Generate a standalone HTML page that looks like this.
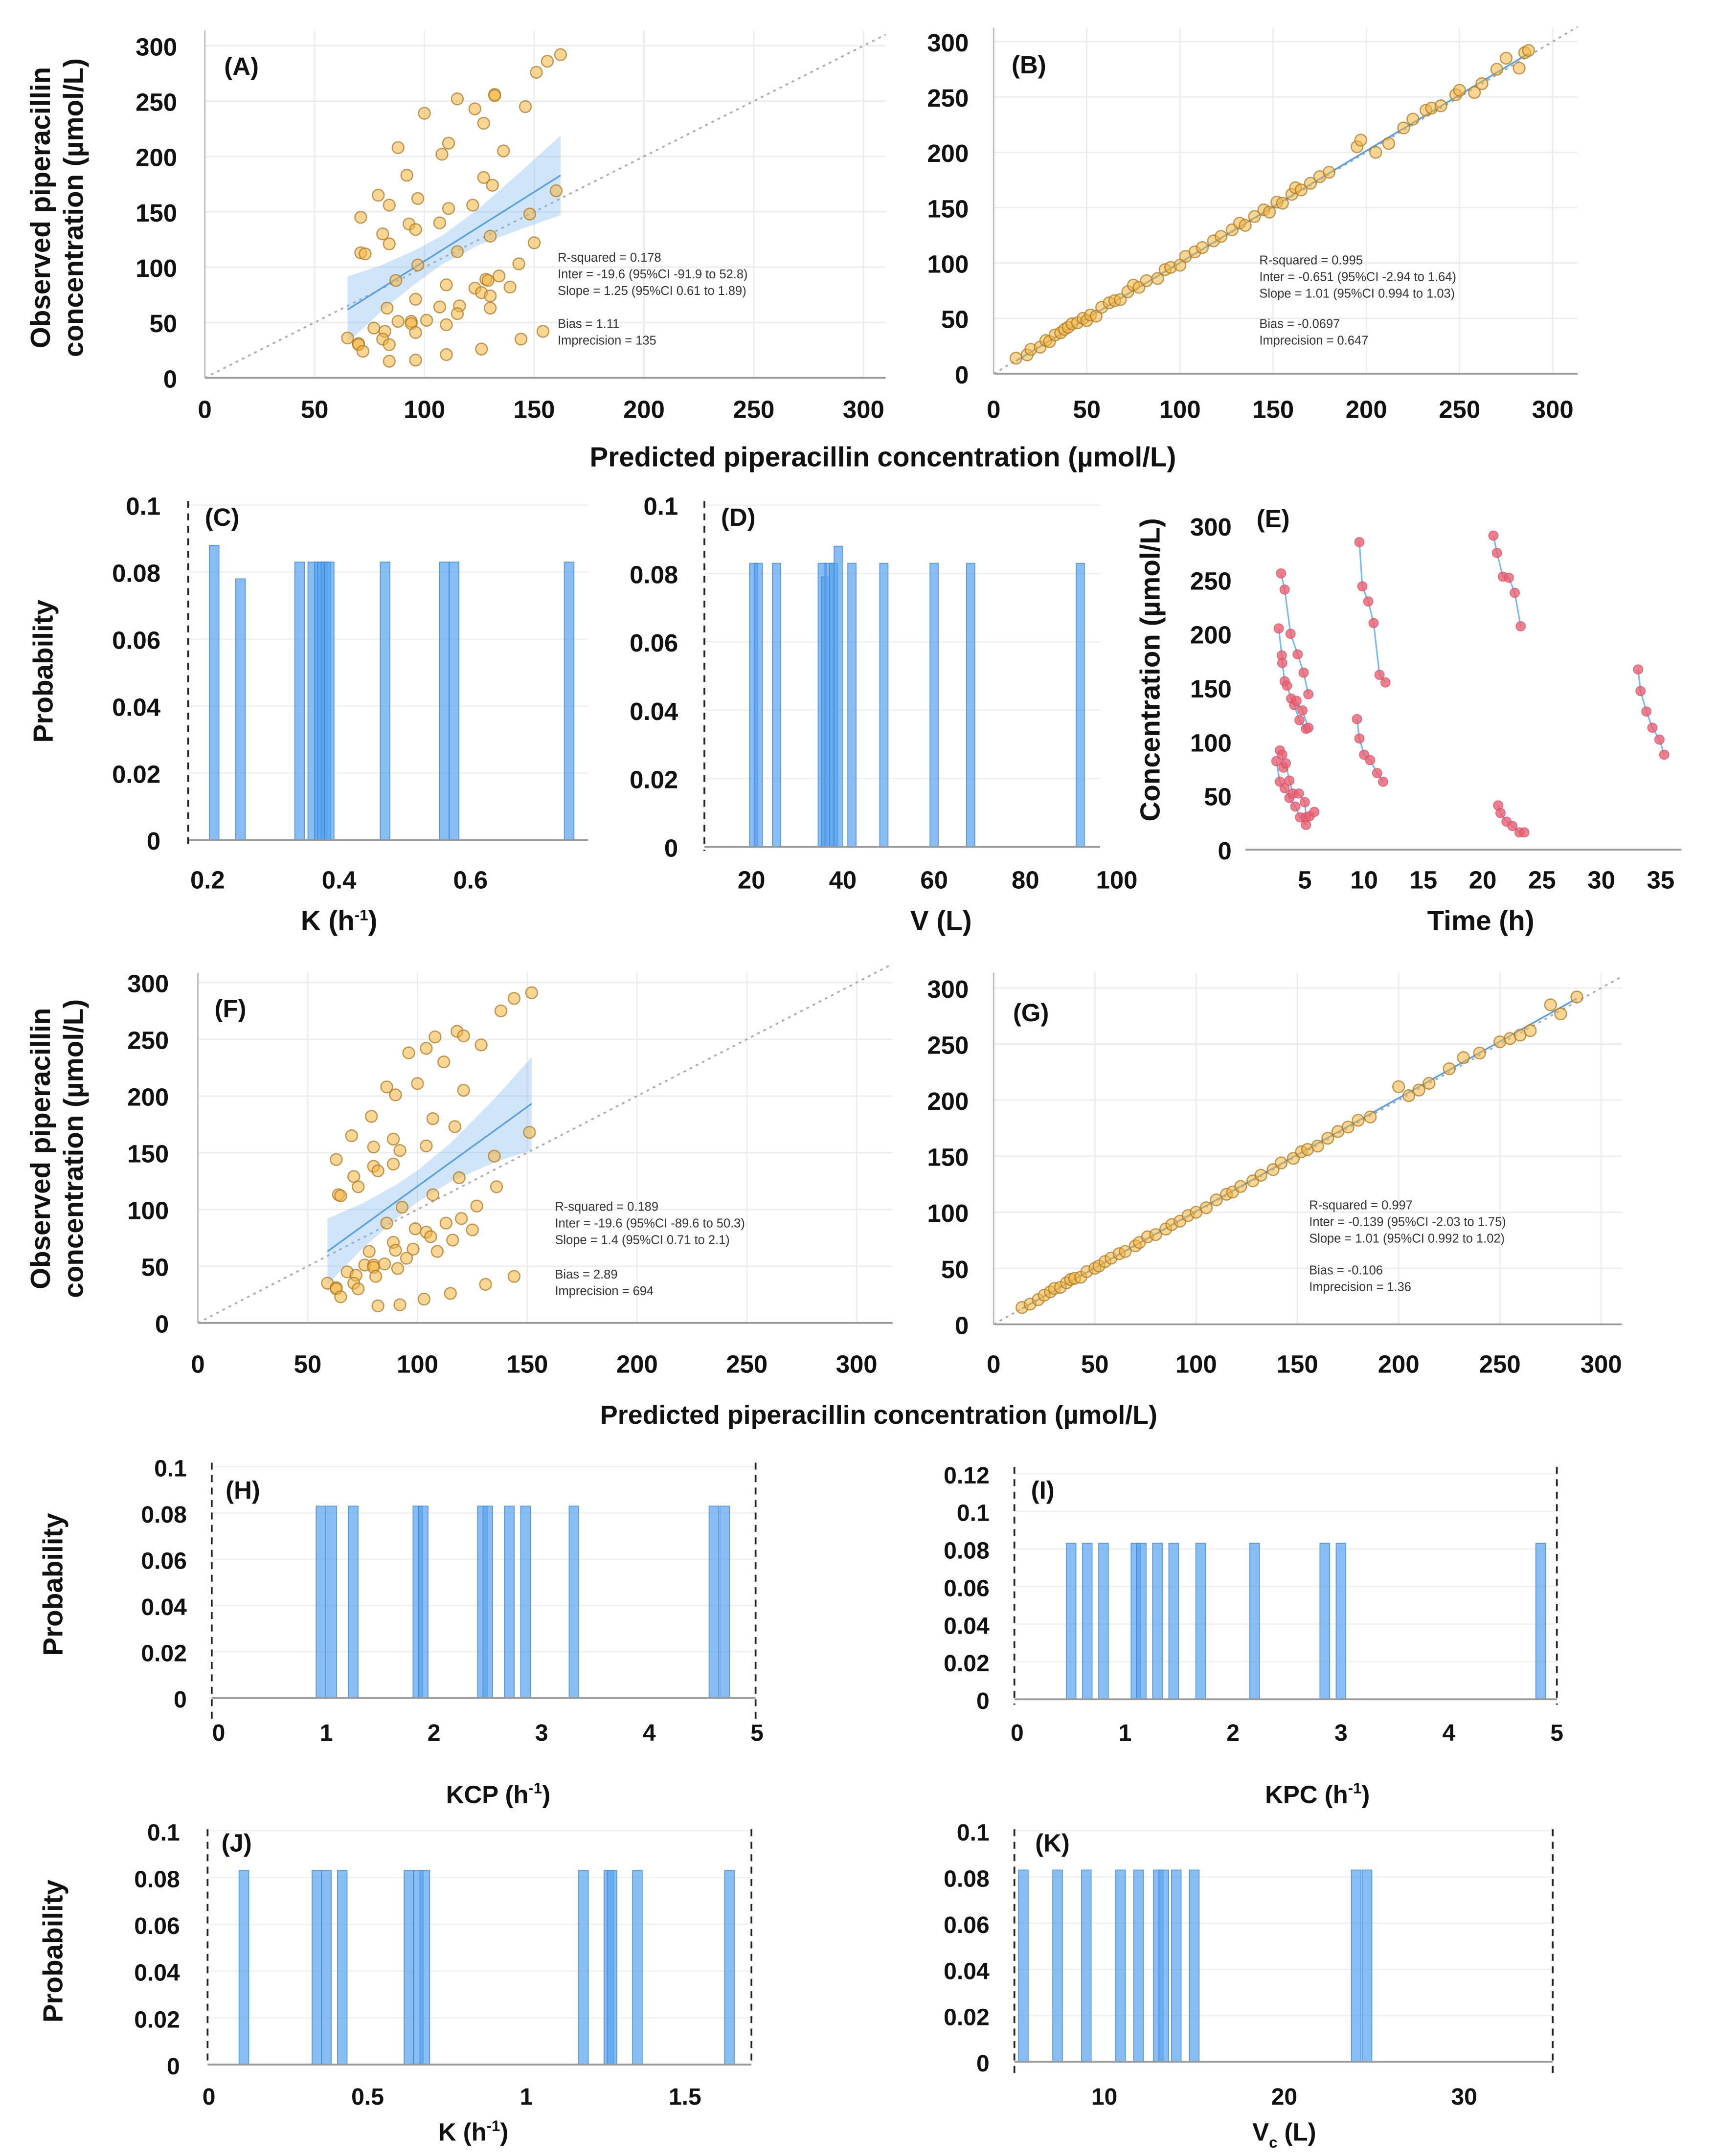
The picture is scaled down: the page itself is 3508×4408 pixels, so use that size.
<!DOCTYPE html>
<html><head><meta charset="utf-8">
<style>
html,body{margin:0;padding:0;background:#fff;}
svg{display:block;font-family:"Liberation Sans",Arial,sans-serif;}
.tk{font-weight:bold;font-size:18px;fill:#111;}
.tk2{font-weight:bold;font-size:17px;fill:#111;}
.ttl{font-weight:bold;font-size:20px;fill:#111;}
.pl{font-weight:bold;font-size:18px;fill:#111;}
.st{font-size:9px;fill:#333;}
</style></head>
<body>
<svg id="fig" width="3508" height="4408" viewBox="0 0 1240 1558" xmlns="http://www.w3.org/2000/svg"></svg>
<script>
// ---- Panel A data ----
const A_pred = [162,156,151,132,132,115,146,100,123,127,88,111,108,136,92,127,131,160,79,97,84,122,111,71,148,93,96,107,81,130,84,150,71,73,115,97,143,134,87,128,129,110,139,123,126,130,96,107,83,116,130,115,88,94,94,101,110,77,82,96,154,65,81,144,70,70,84,72,126,110,84,96];
const A_obs  = [292,286,276,256,255,252,245,239,243,230,208,212,202,205,183,181,174,169,165,162,156,156,153,145,148,139,134,140,130,128,121,122,113,112,114,102,103,92,88,89,88,84,82,81,77,74,71,64,63,65,63,58,51,51,49,52,48,45,42,41,42,36,35,35,31,30,30,24,26,21,15,16];
const A_bandX = [65,80,95,108,125,145,162];
const A_bandLo = [31.6,59.4,83.8,102.4,120.2,135.1,146.9];
const A_bandHi = [91.6,101.4,114.6,128.4,153.2,188.3,218.9];
const A_fitX = [65,162];
const A_fitY = [61.6,182.9];
// ---- Panel B data ----
const B_pred = [12,18,20,25,28,30,33,36,38,40,42,45,48,50,52,55,58,62,65,68,72,75,78,82,88,92,95,100,103,108,112,118,122,128,132,135,140,145,148,152,155,160,162,165,170,175,180,195,197,205,212,220,225,232,235,240,248,250,258,262,270,275,285,282,287];
const B_obs  = [14,17,22,24,30,29,35,37,40,42,45,46,50,48,53,52,60,64,66,67,74,80,78,84,86,94,96,98,106,110,114,120,124,130,136,134,142,148,146,155,154,162,168,166,172,178,182,205,211,200,208,222,230,238,240,242,252,256,254,262,275,285,290,276,292];
const B_fitX = [12,287];
const B_fitY = [11.5,289.2];
// ---- Panel F data ----
const F_pred = [152,144,138,118,121,108,104,96,129,112,100,86,90,121,79,107,117,151,70,89,80,104,92,63,135,80,82,89,71,119,73,136,64,65,107,93,127,120,86,113,99,125,104,106,116,89,109,78,90,98,95,76,80,80,85,91,68,72,81,144,59,71,131,63,63,73,65,115,103,82,92];
const F_obs  = [291,286,275,257,253,252,242,238,245,230,211,208,201,205,182,180,173,168,165,162,155,156,152,144,147,138,134,140,129,128,120,120,113,112,113,102,103,92,88,88,83,82,80,76,73,71,63,63,64,65,57,51,51,49,52,48,45,42,41,41,35,35,34,31,30,30,23,26,21,15,16];
const F_bandX = [59,75,90,100,115,135,152];
const F_bandLo = [34,65.4,91.4,106.4,124.4,141.4,152.2];
const F_bandHi = [92,105.4,121.4,134.4,158.4,197.4,234.2];
const F_fitX = [59,152];
const F_fitY = [63,193.2];
// ---- Panel G data ----
const G_pred = [14,18,22,25,28,30,33,36,38,40,43,46,50,52,55,58,62,65,70,72,76,80,85,88,92,96,100,105,110,115,118,122,128,132,138,142,148,152,155,160,165,170,175,180,186,200,205,210,215,225,232,240,250,255,260,265,275,280,288];
const G_obs  = [15,18,22,26,29,32,33,37,40,41,42,47,50,52,56,59,63,65,70,73,78,80,85,89,92,97,100,104,111,116,118,123,128,133,138,144,148,154,156,159,166,172,176,182,185,212,204,209,215,228,238,242,252,255,258,262,285,277,292];
const G_fitX = [14,288];
const G_fitY = [14,290.7];
// ---- Panel C / D histograms ----
const C_vals = [0.21,0.25,0.34,0.36,0.37,0.375,0.38,0.385,0.47,0.56,0.575,0.75];
const C_probs = [0.088,0.078,0.083,0.083,0.083,0.083,0.083,0.083,0.083,0.083,0.083,0.083];
const C_ticks = [0.2,0.4,0.6];
const D_vals = [20.5,21.5,25.5,35.5,36.2,37,38,39,42,49,60,68,92];
const D_probs = [0.083,0.083,0.083,0.083,0.079,0.083,0.083,0.088,0.083,0.083,0.083,0.083,0.083];
const D_ticks = [20,40,60,80,100];
// ---- Panel E concentration-time series ----
const E_s1_t = [3.0,3.3,3.8,4.4,4.9,5.3];
const E_s1_c = [256,241,200,181,164,144];
const E_s2_t = [2.8,3.06,3.1,3.3,3.5,3.85,4.1,4.55,5.1];
const E_s2_c = [205,180,173,156,152,140,134,120,112];
const E_s3_t = [4.3,4.8,5.3];
const E_s3_c = [138,129,113];
const E_s4_t = [2.6,2.9,3.3,3.7,4.2,4.6,5.1];
const E_s4_c = [82,63,57,48,40,30,23];
const E_s5_t = [2.9,3.1,3.2,3.4,3.7,4.0,4.5,5.0,5.1,5.4,5.8];
const E_s5_c = [92,88,76,80,64,52,52,44,30,31,35];
const E_s6_t = [9.6,9.85,10.35,10.8,11.3,11.8];
const E_s6_c = [285,244,230,210,162,155];
const E_s7_t = [9.4,9.6,10.0,10.5,11.1,11.6];
const E_s7_c = [121,103,88,83,71,63];
const E_s8_t = [20.9,21.2,21.7,22.2,22.7,23.2];
const E_s8_c = [291,275,253,252,238,207];
const E_s9_t = [21.3,21.5,22.0,22.5,23.1,23.5];
const E_s9_c = [41,34,26,22,16,16];
const E_s10_t = [33.1,33.3,33.8,34.3,34.9,35.3];
const E_s10_c = [167,147,128,113,102,88];
const E_xticks = [5,10,15,20,25,30,35];
// ---- Panels H-K histograms ----
const H_vals = [0.95,1.05,1.25,1.85,1.9,2.45,2.5,2.7,2.85,3.3,4.6,4.7];
const H_probs = [0.083,0.083,0.083,0.083,0.083,0.083,0.083,0.083,0.083,0.083,0.083,0.083];
const I_vals = [0.5,0.65,0.8,1.1,1.15,1.3,1.45,1.7,2.2,2.85,3.0,4.85];
const I_probs = [0.083,0.083,0.083,0.083,0.083,0.083,0.083,0.083,0.083,0.083,0.083,0.083];
const J_vals = [0.11,0.34,0.37,0.42,0.63,0.66,0.68,1.18,1.26,1.27,1.35,1.64];
const J_probs = [0.083,0.083,0.083,0.083,0.083,0.083,0.083,0.083,0.083,0.083,0.083,0.083];
const K_vals = [5.5,7.4,9.0,10.9,11.9,13.0,13.3,14.0,15.0,24.0,24.6];
const K_probs = [0.083,0.083,0.083,0.083,0.083,0.083,0.083,0.083,0.083,0.083,0.083];

const NS = "http://www.w3.org/2000/svg";
const svg = document.getElementById('fig');
function mk(tag, attrs, parent){
  const e = document.createElementNS(NS, tag);
  for (const k in attrs) e.setAttribute(k, attrs[k]);
  (parent||svg).appendChild(e);
  return e;
}
function lin(d0,d1,p0,p1){ return v => p0 + (v-d0)*(p1-p0)/(d1-d0); }
function txt(s, x, y, cls, anchor, parent, rot){
  const t = mk('text', {x:x, y:y, class:cls, 'text-anchor':anchor||'middle'}, parent);
  if (rot) t.setAttribute('transform','rotate(-90 '+x+' '+y+')');
  t.textContent = s;
  return t;
}

function scatterPanel(id, L, xs, ys, bx, blo, bhi, fx, fy, stats){
  const g = mk('g', {});
  
  
  const X = lin(0,300,L.x0,L.x300), Y = lin(0,300,L.y0,L.y300);
  [0,50,100,150,200,250,300].forEach(v=>{
    const gl = mk('line',{x1:L.x0,x2:L.xr,y1:Y(v),y2:Y(v),stroke:'#ececec','stroke-width':1},g);
    
    
    const vl = mk('line',{x1:X(v),x2:X(v),y1:L.yt,y2:L.y0,stroke:'#ececec','stroke-width':1},g);
    
    
    const xl = txt(String(v), X(v), L.xly, 'tk', 'middle', g);
    
    
    const yl = txt(String(v), L.ylx, Y(v)+7, 'tk', 'end', g);
    
    
  });
  const ax = mk('line',{x1:L.x0,x2:L.xr,y1:L.y0,y2:L.y0,stroke:'#999','stroke-width':1.3},g);
  
  
  const ay = mk('line',{x1:L.x0,x2:L.x0,y1:L.yt,y2:L.y0,stroke:'#bbb','stroke-width':1},g);
  
  
  const dg = mk('line',{x1:L.x0,y1:L.y0,x2:L.xr,y2:Y((L.xr-L.x0)/(L.x300-L.x0)*300),stroke:'#aaa','stroke-width':1.2,'stroke-dasharray':'2,3'},g);
  
  
  if (bx){
    let d = '';
    bx.forEach((v,i)=>{ d += (i?'L':'M')+X(v)+','+Y(bhi[i]); });
    for (let i=bx.length-1;i>=0;i--) d += 'L'+X(bx[i])+','+Y(blo[i]);
    const band = mk('path',{d:d+'Z',fill:'rgba(120,180,240,0.35)',stroke:'none'},g);
    
    
  }
  const fit = mk('line',{x1:X(fx[0]),y1:Y(fy[0]),x2:X(fx[1]),y2:Y(fy[1]),stroke:'#5aa0e0','stroke-width':1.2},g);
  
  
  xs.forEach((v,i)=>{
    const c = mk('circle',{cx:X(v),cy:Y(ys[i]),r:4.2,fill:'rgba(245,180,60,0.55)',stroke:'rgba(170,120,40,0.75)','stroke-width':0.9},g);
    
    
  });
  const lab = txt('('+id+')', L.labx, L.laby, 'pl', 'start', g);
  
  
  stats.forEach((s,i)=>{
    const t = txt(s[0], L.stx, L.sty + s[1], 'st', 'start', g);
    
    
  });
}

function histPanel(id, L, vals, probs, yticks, xticks, xfmt, cls){
  const g = mk('g', {});
  
  
  const X = lin(L.d0,L.d1,L.p0,L.p1), Y = lin(0,L.ymax,L.y0,L.yt);
  yticks.forEach(v=>{
    const gl = mk('line',{x1:L.dl,x2:L.dr,y1:Y(v),y2:Y(v),stroke:'#f0f0f0','stroke-width':1},g);
    
    
    const yl = txt(String(v), L.ylx, Y(v)+7, cls, 'end', g);
    
    
  });
  xticks.forEach(v=>{
    const xl = txt(xfmt?xfmt(v):String(v), X(v), L.xly, cls, 'middle', g);
    
    
  });
  vals.forEach((v,i)=>{
    const r = mk('rect',{x:X(v)-L.bw/2,y:Y(probs[i]),width:L.bw,height:L.y0-Y(probs[i]),fill:'rgba(90,165,240,0.72)',stroke:'rgba(60,130,210,0.8)','stroke-width':0.6},g);
    
    
  });
  const ax = mk('line',{x1:L.dl,x2:L.dr,y1:L.y0,y2:L.y0,stroke:'#999','stroke-width':1.3},g);
  
  
  const d1 = mk('line',{x1:L.dl,x2:L.dl,y1:L.dt,y2:L.db,stroke:'#222','stroke-width':1.3,'stroke-dasharray':'5,4'},g);
  
  
  if (L.dashR){
    const d2 = mk('line',{x1:L.dr,x2:L.dr,y1:L.dt,y2:L.db,stroke:'#222','stroke-width':1.3,'stroke-dasharray':'5,4'},g);
    
    
  }
  const lab = txt('('+id+')', L.labx, L.laby, 'pl', 'start', g);
  
  
}

// Scatter panels
scatterPanel('A',{x0:148,x300:624,xr:640,y0:273,y300:33,yt:22,xly:302,ylx:128,labx:162,laby:54,stx:403,sty:189},
  A_pred,A_obs,A_bandX,A_bandLo,A_bandHi,A_fitX,A_fitY,
  [['R-squared = 0.178',0],['Inter = -19.6 (95%CI -91.9 to 52.8)',12],['Slope = 1.25 (95%CI 0.61 to 1.89)',24],['Bias = 1.11',48],['Imprecision  = 135',60]]);
scatterPanel('B',{x0:718,x300:1122,xr:1140,y0:270,y300:30,yt:20,xly:302,ylx:700,labx:731,laby:53,stx:910,sty:191},
  B_pred,B_obs,null,null,null,B_fitX,B_fitY,
  [['R-squared = 0.995',0],['Inter = -0.651 (95%CI -2.94 to 1.64)',12],['Slope = 1.01 (95%CI 0.994 to 1.03)',24],['Bias = -0.0697',46],['Imprecision  = 0.647',58]]);
scatterPanel('F',{x0:143,x300:619,xr:645,y0:956,y300:710,yt:703,xly:992,ylx:122,labx:155,laby:735,stx:401,sty:875},
  F_pred,F_obs,F_bandX,F_bandLo,F_bandHi,F_fitX,F_fitY,
  [['R-squared = 0.189',0],['Inter = -19.6 (95%CI -89.6 to 50.3)',12],['Slope = 1.4 (95%CI 0.71 to 2.1)',24],['Bias = 2.89',49],['Imprecision  = 694',61]]);
scatterPanel('G',{x0:718,x300:1157,xr:1172,y0:957,y300:714,yt:703,xly:992,ylx:700,labx:732,laby:738,stx:946,sty:874},
  G_pred,G_obs,null,null,null,G_fitX,G_fitY,
  [['R-squared = 0.997',0],['Inter = -0.139 (95%CI -2.03 to 1.75)',12],['Slope = 1.01 (95%CI 0.992 to 1.02)',24],['Bias = -0.106',47],['Imprecision  = 1.36',59]]);

// Histograms C, D
histPanel('C',{d0:0.2,d1:0.6,p0:150,p1:340,ymax:0.1,y0:607,yt:365,dl:136,dr:425,dt:362,db:610,dashR:false,bw:7,ylx:116,xly:642,labx:148,laby:380},
  C_vals,C_probs,[0,0.02,0.04,0.06,0.08,0.1],C_ticks,null,'tk');
histPanel('D',{d0:20,d1:100,p0:543,p1:807,ymax:0.1,y0:612,yt:365,dl:509,dr:795,dt:362,db:615,dashR:false,bw:6,ylx:490,xly:642,labx:521,laby:380},
  D_vals,D_probs,[0,0.02,0.04,0.06,0.08,0.1],D_ticks,null,'tk');
// Histograms H-K
histPanel('H',{d0:0,d1:5,p0:158,p1:547,ymax:0.1,y0:1227,yt:1060,dl:153,dr:546,dt:1057,db:1245,dashR:true,bw:7,ylx:135,xly:1258,labx:163,laby:1083},
  H_vals,H_probs,[0,0.02,0.04,0.06,0.08,0.1],[0,1,2,3,4,5],null,'tk2');
histPanel('I',{d0:0,d1:5,p0:735,p1:1125,ymax:0.12,y0:1228,yt:1065,dl:733,dr:1125,dt:1060,db:1232,dashR:true,bw:7,ylx:715,xly:1258,labx:745,laby:1083},
  I_vals,I_probs,[0,0.02,0.04,0.06,0.08,0.1,0.12],[0,1,2,3,4,5],null,'tk2');
histPanel('J',{d0:0,d1:1.5,p0:151,p1:495,ymax:0.1,y0:1492,yt:1323,dl:150,dr:543,dt:1322,db:1493,dashR:true,bw:7,ylx:130,xly:1521,labx:160,laby:1338},
  J_vals,J_probs,[0,0.02,0.04,0.06,0.08,0.1],[0,0.5,1,1.5],null,'tk2');
histPanel('K',{d0:10,d1:30,p0:798,p1:1058,ymax:0.1,y0:1490,yt:1323,dl:733,dr:1122,dt:1322,db:1500,dashR:true,bw:7,ylx:715,xly:1521,labx:748,laby:1338},
  K_vals,K_probs,[0,0.02,0.04,0.06,0.08,0.1],[10,20,30],null,'tk2');

// Panel E
(function(){
  const g = mk('g', {});
  
  
  const X = lin(0,35,900,1200), Y = lin(0,300,614,380);
  [0,50,100,150,200,250,300].forEach(v=>{
    const yl = txt(String(v), 890, Y(v)+7, 'tk', 'end', g);
    
    
  });
  E_xticks.forEach(v=>{
    const xl = txt(String(v), X(v), 642, 'tk', 'middle', g);
    
    
  });
  const ax = mk('line',{x1:900,x2:1215,y1:614,y2:614,stroke:'#999','stroke-width':1.3},g);
  
  
  const series = [[E_s1_t,E_s1_c],[E_s2_t,E_s2_c],[E_s3_t,E_s3_c],[E_s4_t,E_s4_c],[E_s5_t,E_s5_c],[E_s6_t,E_s6_c],[E_s7_t,E_s7_c],[E_s8_t,E_s8_c],[E_s9_t,E_s9_c],[E_s10_t,E_s10_c]];
  series.forEach(s=>{
    const pts = s[0].map((t,i)=>X(t)+','+Y(s[1][i])).join(' ');
    const pl = mk('polyline',{points:pts,fill:'none',stroke:'#7ab8f0','stroke-width':1.1},g);
    
    
    s[0].forEach((t,i)=>{
      const c = mk('circle',{cx:X(t),cy:Y(s[1][i]),r:3.4,fill:'rgba(235,95,110,0.8)',stroke:'rgba(200,80,110,0.7)','stroke-width':0.6},g);
      
      
    });
  });
  const lab = txt('(E)', 908, 381, 'pl', 'start', g);
  
  
})();

// Axis titles
let t;
t = txt('Observed piperacillin', 36, 150, 'ttl', 'middle', null, true);


t = txt('concentration (µmol/L)', 60, 150, 'ttl', 'middle', null, true);


t = txt('Predicted piperacillin concentration (µmol/L)', 638, 337, 'ttl', 'middle');


t = txt('Probability', 38, 485, 'ttl', 'middle', null, true);


t = txt('V (L)', 680, 672, 'ttl', 'middle');


t = txt('Concentration (µmol/L)', 838, 484, 'ttl', 'middle', null, true);


t = txt('Time (h)', 1070, 672, 'ttl', 'middle');


t = txt('Observed piperacillin', 36, 830, 'ttl', 'middle', null, true);


t = txt('concentration (µmol/L)', 60, 830, 'ttl', 'middle', null, true);


t = txt('Predicted piperacillin concentration (µmol/L)', 635, 1029, 'ttl', 'middle');
t.setAttribute('style','font-size:19px');


t = txt('Probability', 45, 1145, 'ttl', 'middle', null, true);


t = txt('Probability', 45, 1410, 'ttl', 'middle', null, true);


function supTitle(name, base, sup, tail, x, y, fs){
  const e = mk('text',{x:x,y:y,'text-anchor':'middle',class:'ttl'});
  e.setAttribute('style','font-size:'+(fs||18)+'px');
  
  
  const a = mk('tspan',{},e); a.textContent = base;
  const b = mk('tspan',{dy:-7,style:'font-size:11px'},e); b.textContent = sup;
  const c = mk('tspan',{dy:7},e); c.textContent = tail;
}
supTitle('x-axis-title-c','K (h','-1',')',245,672,20);
supTitle('x-axis-title-h','KCP (h','-1',')',360,1303);
supTitle('x-axis-title-i','KPC (h','-1',')',952,1303);
supTitle('x-axis-title-j','K (h','-1',')',342,1547);
(function(){
  const e = mk('text',{x:928,y:1547,'text-anchor':'middle',class:'ttl'});
  e.setAttribute('style','font-size:18px');
  
  
  const a = mk('tspan',{},e); a.textContent = 'V';
  const b = mk('tspan',{dy:5,style:'font-size:11px'},e); b.textContent = 'c';
  const c = mk('tspan',{dy:-5},e); c.textContent = ' (L)';
})();
</script>
</body></html>
